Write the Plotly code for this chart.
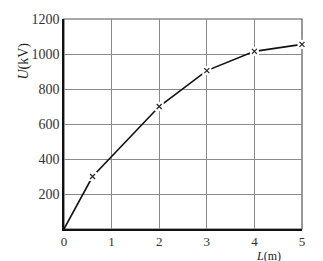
import plotly.graph_objects as go

L_m = [0, 0.6, 2, 3, 4, 5]
U_kV = [0, 300, 700, 905, 1015, 1055]
x_ticks = [0, 1, 2, 3, 4, 5]
y_ticks = [200, 400, 600, 800, 1000, 1200]

FONT = "Liberation Serif, DejaVu Serif, serif"

fig = go.Figure()
fig.add_trace(go.Scatter(x=L_m, y=U_kV, mode="lines",
                         line=dict(color="#111", width=1.6), cliponaxis=False))
# white masks to break the line around the markers
fig.add_trace(go.Scatter(x=L_m[1:], y=U_kV[1:], mode="markers",
                         marker=dict(symbol="square", size=9, color="white"),
                         cliponaxis=False))
fig.add_trace(go.Scatter(x=L_m[1:], y=U_kV[1:], mode="markers",
                         marker=dict(symbol="x-thin", size=5,
                                     line=dict(color="#222", width=1.2)),
                         cliponaxis=False))

fig.update_layout(
    width=323, height=261,
    margin=dict(l=64, r=21, t=19, b=29),
    paper_bgcolor="white", plot_bgcolor="white",
    showlegend=False,
    font=dict(family=FONT, size=14, color="#333"),
    xaxis=dict(range=[0, 5], tickvals=x_ticks, ticktext=[str(v) for v in x_ticks],
               tickfont=dict(size=13),
               showgrid=True, gridcolor="#8a8a8a", gridwidth=1,
               showline=True, linecolor="#111", linewidth=1.5,
               zeroline=False, ticks="", ticklabelstandoff=0, fixedrange=True),
    yaxis=dict(range=[0, 1200], tickvals=y_ticks, ticktext=[str(v) for v in y_ticks],
               showgrid=True, gridcolor="#8a8a8a", gridwidth=1,
               showline=True, linecolor="#111", linewidth=1.5,
               zeroline=False, ticks="", ticklabelstandoff=0, fixedrange=True),
    shapes=[dict(type="rect", xref="paper", yref="paper", x0=0, x1=1, y0=0, y1=1,
                 line=dict(color="#555", width=1.2), layer="below")],
    annotations=[
        dict(text="<i>U</i>(kV)", xref="paper", yref="paper", x=-0.17, y=0.80,
             xanchor="center", yanchor="middle",
             textangle=-90, showarrow=False, font=dict(size=14, color="#222")),
        dict(text="<i>L</i>(m)", xref="paper", yref="paper", x=0.86, y=-0.127,
             xanchor="center", yanchor="middle",
             showarrow=False, font=dict(size=12, color="#222")),
    ],
)
fig.write_html("out.html")
